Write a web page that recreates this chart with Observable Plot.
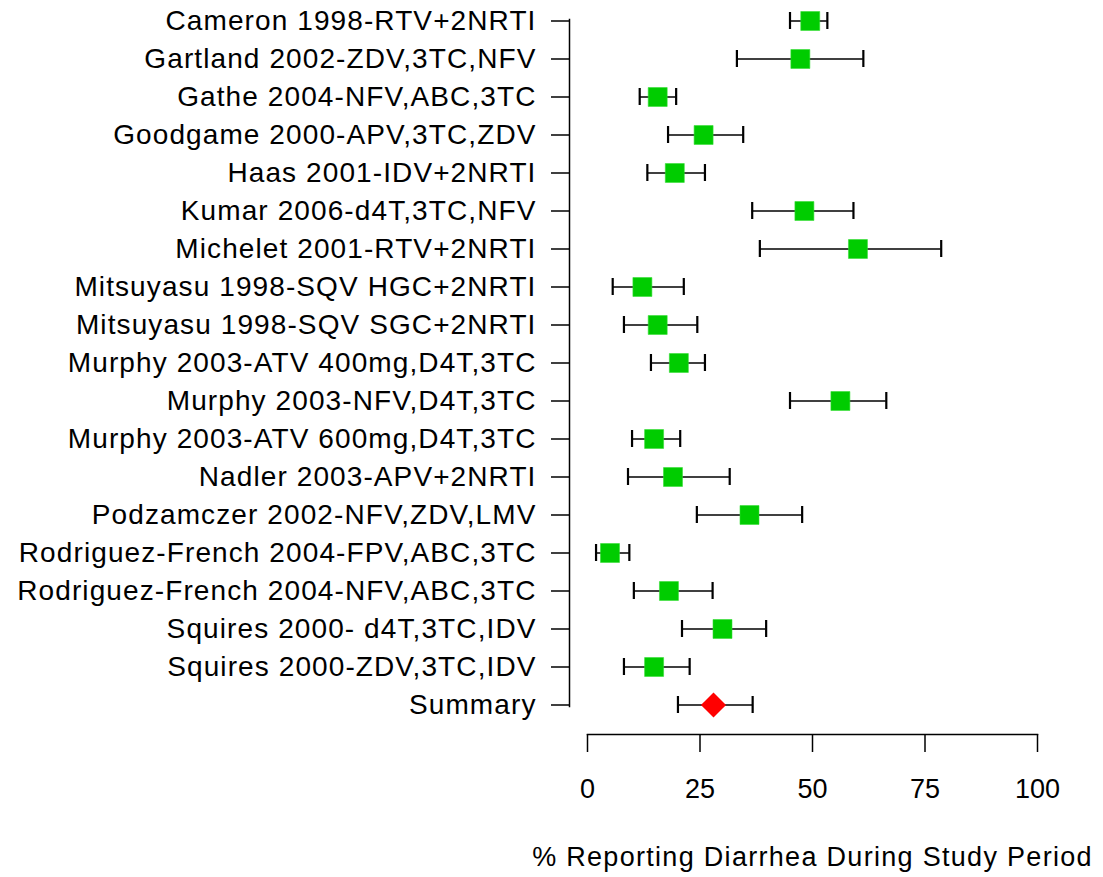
<!DOCTYPE html>
<html><head><meta charset="utf-8">
<script src="https://cdn.jsdelivr.net/npm/d3@7"></script>
<script src="https://cdn.jsdelivr.net/npm/@observablehq/plot@0.6"></script>
<style>
html,body{margin:0;padding:0;background:#fff}
svg{display:block}
g[aria-label="y-axis tick label"] text{letter-spacing:1.1px}
[aria-label="x-title"]{letter-spacing:1.3px}
</style>
</head><body><div id="chart"></div>
<script>
const studies = [
  "Cameron 1998-RTV+2NRTI",
  "Gartland 2002-ZDV,3TC,NFV",
  "Gathe 2004-NFV,ABC,3TC",
  "Goodgame 2000-APV,3TC,ZDV",
  "Haas 2001-IDV+2NRTI",
  "Kumar 2006-d4T,3TC,NFV",
  "Michelet 2001-RTV+2NRTI",
  "Mitsuyasu 1998-SQV HGC+2NRTI",
  "Mitsuyasu 1998-SQV SGC+2NRTI",
  "Murphy 2003-ATV 400mg,D4T,3TC",
  "Murphy 2003-NFV,D4T,3TC",
  "Murphy 2003-ATV 600mg,D4T,3TC",
  "Nadler 2003-APV+2NRTI",
  "Podzamczer 2002-NFV,ZDV,LMV",
  "Rodriguez-French 2004-FPV,ABC,3TC",
  "Rodriguez-French 2004-NFV,ABC,3TC",
  "Squires 2000- d4T,3TC,IDV",
  "Squires 2000-ZDV,3TC,IDV",
  "Summary"
];
const estimates = [49.5, 47.3, 15.6, 25.8, 19.4, 48.2, 60.1, 12.2, 15.6, 20.3, 56.2, 14.8, 19.0, 36.0, 5.0, 18.1, 30.0, 14.8, 28.0];
const lower     = [45.0, 33.2, 11.6, 17.9, 13.3, 36.6, 38.3,  5.6,  8.1, 14.1, 45.0,  9.9,  9.0, 24.3, 1.9, 10.3, 21.0,  8.1, 20.1];
const upper     = [53.3, 61.3, 19.7, 34.6, 26.1, 59.1, 78.6, 21.4, 24.4, 26.1, 66.4, 20.6, 31.6, 47.7, 9.3, 27.8, 39.7, 22.7, 36.7];
const summaryLabel = "Summary";
const xDomain = [0, 100];
const xTicks = [0, 25, 50, 75, 100];
const xTitle = "% Reporting Diarrhea During Study Period";

const rows = studies.map((s, i) => ({study: s, est: estimates[i], lo: lower[i], hi: upper[i], summary: s === summaryLabel}));
const studyRows = rows.filter(d => !d.summary);
const summaryRows = rows.filter(d => d.summary);

const chart = Plot.plot({
  width: 1103,
  height: 877,
  marginTop: 0,
  marginBottom: 143,
  marginLeft: 569,
  marginRight: 66,
  style: {fontFamily: "'Liberation Sans', Arial, sans-serif", background: "#fff", color: "#000"},
  x: {domain: xDomain, insetLeft: 18},
  y: {type: "band", domain: studies, paddingInner: 0.555, paddingOuter: 0.2775, insetBottom: 9},
  marks: [
    Plot.frame({anchor: "left", insetTop: 19, insetBottom: 28, strokeWidth: 1.5}),
    Plot.frame({anchor: "bottom", insetLeft: 18, strokeWidth: 1.5}),
    Plot.axisY({tickSize: 18, tickPadding: 15, fontSize: 28, strokeWidth: 1.5, label: null}),
    Plot.axisX({ticks: xTicks, tickSize: 18, tickPadding: 26, fontSize: 27, strokeWidth: 1.5, label: null}),
    Plot.text([xTitle], {x: () => d3.mean(xDomain), text: d => d, frameAnchor: "bottom", dy: 123, fontSize: 27, lineAnchor: "middle", ariaLabel: () => "x-title"}),
    Plot.ruleY(rows, {y: "study", x1: "lo", x2: "hi", strokeWidth: 1.5}),
    Plot.tickX(rows, {x: "lo", y: "study", strokeWidth: 2.2}),
    Plot.tickX(rows, {x: "hi", y: "study", strokeWidth: 2.2}),
    Plot.dot(studyRows, {x: "est", y: "study", symbol: "square", r: 10.7, fill: "#00cc00", stroke: "#33dd33", strokeWidth: 0.6}),
    Plot.dot(summaryRows, {x: "est", y: "study", symbol: "diamond2", r: 11.3, fill: "#ff0000"})
  ]
});
document.getElementById("chart").appendChild(chart);
</script>
</body></html>
